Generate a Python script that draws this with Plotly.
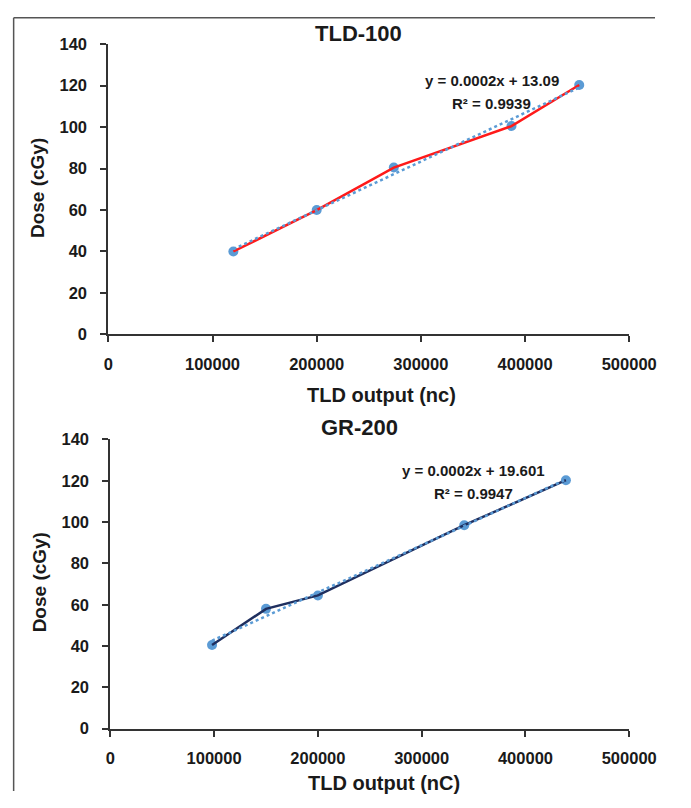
import numpy as np
import plotly.graph_objects as go

# Data
tld100_output = [120000, 200000, 274000, 387000, 452000]
tld100_dose = [40, 60, 80.5, 100.5, 120.3]
gr200_output = [98000, 150000, 200000, 341000, 439000]
gr200_dose = [40.5, 58, 64.5, 98.5, 120.3]

x_ticks = [0, 100000, 200000, 300000, 400000, 500000]
y_ticks = [0, 20, 40, 60, 80, 100, 120, 140]

eq_top = "y = 0.0002x + 13.09"
r2_top = "R² = 0.9939"
eq_bot = "y = 0.0002x + 19.601"
r2_bot = "R² = 0.9947"

PAGE_MARGIN = 8
W, H = 691 - 2 * PAGE_MARGIN, 808 - 2 * PAGE_MARGIN
FONT = "Liberation Sans, Arial, sans-serif"
MARK = "#5B9BD5"

# map a target position in the final 691x808 picture to paper fractions
def px(s):
    p = (s - 2.4) / 0.957
    return (p - PAGE_MARGIN) / W

def py(s):
    p = (s - 9.0) / 0.9766
    return 1 - (p - PAGE_MARGIN) / H

X_RIGHT = 647.9 / W  # right end of the x axes (keeps the last tick label inside the page)

fig = go.Figure()

def add_panel(xs, ys, line_color, xa, ya):
    m, b = np.polyfit(xs, ys, 1)
    tx = [min(xs), max(xs)]
    ty = [m * v + b for v in tx]
    fig.add_trace(go.Scatter(x=xs, y=ys, mode="markers", xaxis=xa, yaxis=ya,
                             marker=dict(color=MARK, size=10), showlegend=False))
    fig.add_trace(go.Scatter(x=xs, y=ys, mode="lines", xaxis=xa, yaxis=ya,
                             line=dict(color=line_color, width=2.5), showlegend=False))
    fig.add_trace(go.Scatter(x=tx, y=ty, mode="lines", xaxis=xa, yaxis=ya,
                             line=dict(color=MARK, width=2.5, dash="dot"), showlegend=False))

add_panel(tld100_output, tld100_dose, "#FF1A1A", "x", "y")
add_panel(gr200_output, gr200_dose, "#1F2F5F", "x2", "y2")

axis_common = dict(
    showgrid=False, zeroline=False, showline=True, linecolor="#333333", linewidth=2,
    ticks="outside", ticklen=6, tickwidth=2, tickcolor="#333333",
    tickfont=dict(family=FONT, size=16.5, color="#1a1a1a", weight="bold"),
    ticklabeloverflow="allow",
)
xcommon = dict(axis_common, range=[0, 500000], tickvals=x_ticks,
               ticktext=[str(v) for v in x_ticks], ticklabelstandoff=8)
ycommon = dict(axis_common, range=[0, 140], tickvals=y_ticks,
               ticktext=[str(v) for v in y_ticks], ticklabelstandoff=10)

fig.update_layout(
    width=W, height=H, margin=dict(l=0, r=0, t=0, b=0),
    paper_bgcolor="white", plot_bgcolor="white",
    xaxis=dict(xcommon, domain=[px(106), X_RIGHT], anchor="y"),
    yaxis=dict(ycommon, domain=[py(334), py(44)], anchor="x"),
    xaxis2=dict(xcommon, domain=[px(108), X_RIGHT], anchor="y2"),
    yaxis2=dict(ycommon, domain=[py(728), py(439)], anchor="x2"),
)

def txt(x, y, s, size, angle=0):
    fig.add_annotation(x=px(x), y=py(y), xref="paper", yref="paper", text="<b>" + s + "</b>",
                       showarrow=False, textangle=angle,
                       font=dict(family=FONT, size=size, color="#1a1a1a"),
                       xanchor="center", yanchor="middle")

def eq(xdata, y, s, xref):
    fig.add_annotation(x=xdata, y=py(y), xref=xref, yref="paper", text="<b>" + s + "</b>",
                       showarrow=False, font=dict(family=FONT, size=15, color="#1a1a1a"),
                       xanchor="center", yanchor="middle")

txt(358, 33, "TLD-100", 22)
txt(359, 427, "GR-200", 22)
txt(35, 188, "Dose (cGy)", 19, angle=-90)
txt(37, 582, "Dose (cGy)", 19, angle=-90)
txt(381, 395, "TLD output (nc)", 20)
txt(383, 782, "TLD output (nC)", 20)

eq(368000, 80, eq_top, "x")
eq(368000, 103, r2_top, "x")
eq(350000, 470, eq_bot, "x2")
eq(350000, 493, r2_bot, "x2")

# outer frame (top and left edges)
fig.add_shape(type="line", xref="paper", yref="paper", x0=0.001, x1=1, y0=0.999, y1=0.999,
              line=dict(color="#555555", width=1.5))
fig.add_shape(type="line", xref="paper", yref="paper", x0=0.001, x1=0.001, y0=0.999, y1=0,
              line=dict(color="#555555", width=1.5))

fig.write_html("out.html", config={"displayModeBar": False})
